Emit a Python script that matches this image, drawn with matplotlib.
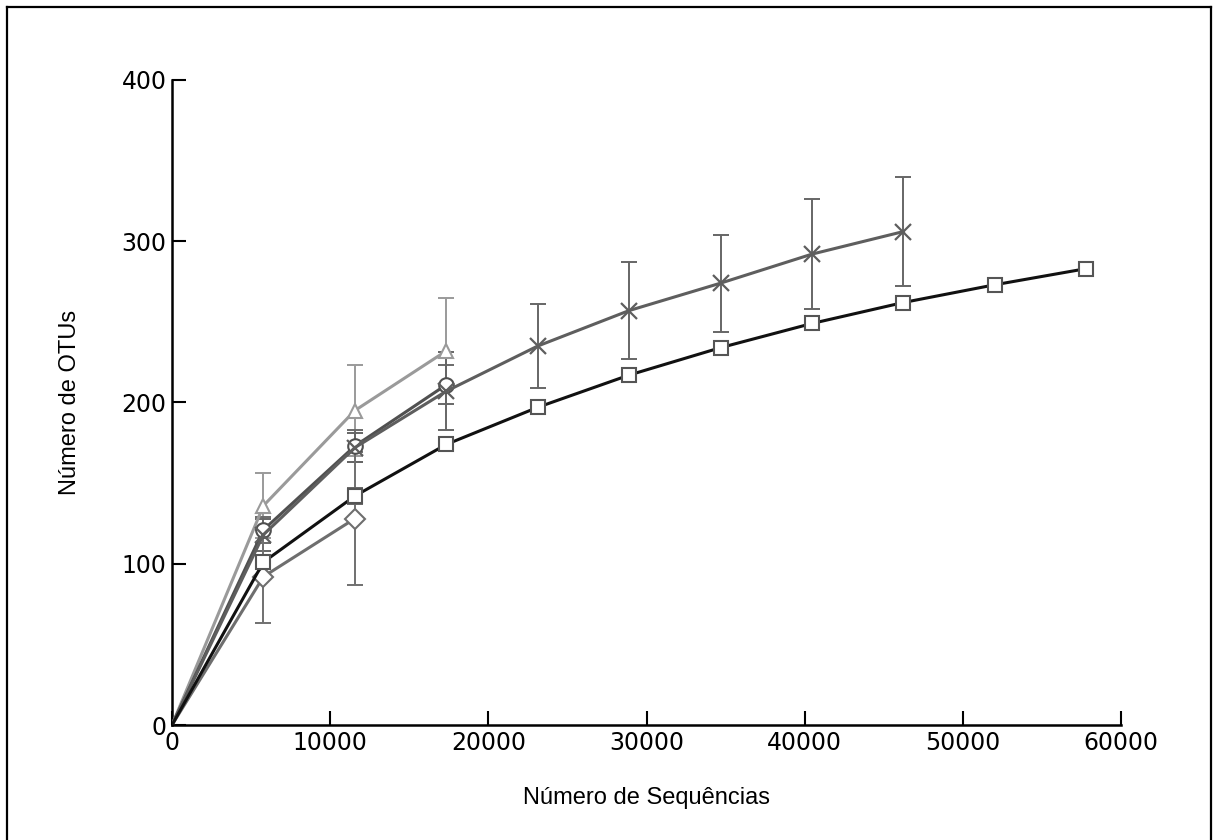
import numpy as np
import matplotlib
matplotlib.use('Agg')
import matplotlib.pyplot as plt
from matplotlib.lines import Line2D

# sequencing depth (rarefaction steps)
steps = [0, 5780, 11560, 17340, 23120, 28900, 34680, 40460, 46240, 52020, 57800]

# OTU counts per sample, with standard deviations
sq_y = [0, 101, 142, 174, 197, 217, 234, 249, 262, 273, 283]
sq_err = [0, 2, 5, 2, 2, 2, 4, 2, 2, 2, 2]

x_y = [0, 118, 172, 207, 235, 257, 274, 292, 306]
x_err = [0, 10, 9, 24, 26, 30, 30, 34, 34]

ci_y = [0, 121, 173, 211]
ci_err = [0, 8, 10, 12]

tri_y = [0, 136, 195, 232]
tri_err = [0, 20, 28, 33]

dia_y = [0, 92, 128]
dia_err = [0, 29, 41]

series = [
    # y, err, marker, line colour, error colour
    (tri_y, tri_err, '^', '#9a9a9a', '#9a9a9a'),
    (ci_y, ci_err, 'o', '#505050', '#6a6a6a'),
    (x_y, x_err, 'x', '#5e5e5e', '#666666'),
    (dia_y, dia_err, 'D', '#6e6e6e', '#707070'),
    (sq_y, sq_err, 's', '#111111', '#666666'),
]

fig = plt.figure(figsize=(12.13, 8.40), dpi=100)
ax = fig.add_axes([0.1418, 0.1369, 0.7824, 0.7679])

for y, err, mk, col, ecol in series:
    xs = steps[:len(y)]
    ax.errorbar(xs[1:], y[1:], yerr=err[1:], fmt='none', ecolor=ecol,
                elinewidth=1.4, capsize=6, capthick=1.4, zorder=2)
    if mk == 'x':
        ax.plot(xs, y, color=col, lw=2.2, marker='x', ms=11, mew=1.6,
                markevery=slice(1, None), zorder=3)
    else:
        ms = 10 if mk == 'D' else 10.5
        ax.plot(xs, y, color=col, lw=2.2, marker=mk, ms=ms, mew=1.5,
                mfc='white', mec=col if mk != 's' else '#555555',
                markevery=slice(1, None), zorder=3)

ax.set_xlim(0, 60000)
ax.set_ylim(0, 400)
ax.set_xticks([0, 10000, 20000, 30000, 40000, 50000, 60000])
ax.set_yticks([0, 100, 200, 300, 400])
ax.spines['top'].set_visible(False)
ax.spines['right'].set_visible(False)
for s in ('left', 'bottom'):
    ax.spines[s].set_linewidth(1.8)
ax.tick_params(direction='in', length=10, width=1.5, labelsize=17,
               top=False, right=False, pad=4)

ax.set_xlabel('Número de Sequências', family='Liberation Sans', fontsize=17,
              labelpad=23)
ax.set_ylabel('Número de OTUs', family='Liberation Sans', fontsize=17,
              labelpad=29)

# outer frame around the picture
fw, fh = 1213, 840
x0, y0, x1 = 7 / fw, 1 - 7 / fh, 1211 / fw
for xs_, ys_ in [([x0, x1], [y0, y0]), ([x0, x0], [y0, 0]), ([x1, x1], [y0, 0])]:
    fig.add_artist(Line2D(xs_, ys_, transform=fig.transFigure, color='black', lw=1.6))

fig.savefig('out.png', dpi=100)
